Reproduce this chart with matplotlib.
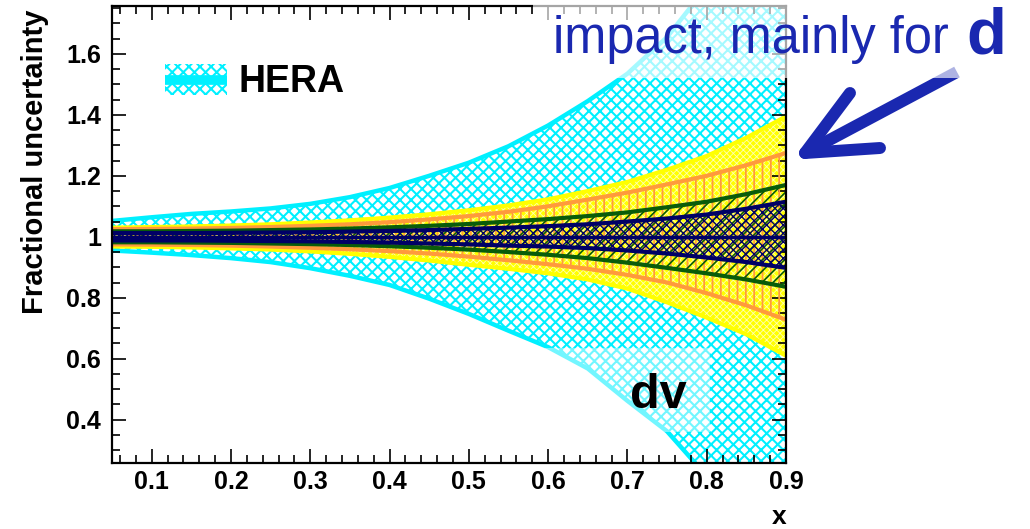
import matplotlib
matplotlib.use("Agg")
import matplotlib.pyplot as plt
from matplotlib.patches import Patch, Rectangle
from matplotlib.lines import Line2D
from matplotlib.legend_handler import HandlerBase
from matplotlib.ticker import MultipleLocator, FixedLocator, FixedFormatter

plt.rcParams['font.family'] = ['Liberation Sans', 'DejaVu Sans']
plt.rcParams['font.weight'] = 'bold'

# ---------------- data ----------------
x = [0.05, 0.10, 0.15, 0.20, 0.25, 0.30, 0.35, 0.40, 0.45, 0.50,
     0.55, 0.60, 0.65, 0.70, 0.75, 0.80, 0.85, 0.90]

hera_up = [1.052, 1.064, 1.075, 1.083, 1.093, 1.108, 1.130, 1.160, 1.200, 1.243,
           1.297, 1.365, 1.445, 1.535, 1.655, 1.820, 2.050, 2.300]
hera_lo = [0.955, 0.948, 0.940, 0.930, 0.917, 0.897, 0.872, 0.842, 0.797, 0.747,
           0.692, 0.638, 0.568, 0.462, 0.362, 0.215, 0.000, -0.200]

yel_up = [1.030, 1.032, 1.034, 1.037, 1.041, 1.047, 1.054, 1.063, 1.074, 1.087,
          1.103, 1.123, 1.150, 1.180, 1.220, 1.265, 1.325, 1.395]
yel_lo = [0.968, 0.967, 0.965, 0.962, 0.958, 0.952, 0.944, 0.934, 0.922, 0.908,
          0.895, 0.880, 0.860, 0.830, 0.785, 0.735, 0.680, 0.610]

ora_up = [1.025, 1.026, 1.027, 1.029, 1.032, 1.036, 1.041, 1.048, 1.057, 1.068,
          1.082, 1.100, 1.122, 1.145, 1.172, 1.200, 1.235, 1.275]
ora_lo = [0.975, 0.974, 0.973, 0.971, 0.968, 0.964, 0.959, 0.953, 0.945, 0.935,
          0.923, 0.910, 0.895, 0.875, 0.850, 0.815, 0.775, 0.728]

grn_up = [1.018, 1.018, 1.019, 1.020, 1.022, 1.024, 1.027, 1.031, 1.036, 1.042,
          1.050, 1.058, 1.068, 1.080, 1.097, 1.115, 1.140, 1.170]
grn_lo = [0.982, 0.982, 0.981, 0.980, 0.978, 0.976, 0.973, 0.969, 0.964, 0.958,
          0.950, 0.941, 0.930, 0.915, 0.898, 0.880, 0.860, 0.836]

nav_up = [1.012, 1.012, 1.012, 1.013, 1.014, 1.015, 1.017, 1.019, 1.022, 1.026,
          1.030, 1.035, 1.041, 1.050, 1.060, 1.073, 1.092, 1.115]
nav_lo = [0.988, 0.988, 0.988, 0.987, 0.986, 0.985, 0.983, 0.981, 0.978, 0.975,
          0.971, 0.968, 0.963, 0.955, 0.945, 0.932, 0.917, 0.898]

central = [1.0] * len(x)

xtick_vals = [0.1, 0.2, 0.3, 0.4, 0.5, 0.6, 0.7, 0.8, 0.9]
xtick_labels = ['0.1', '0.2', '0.3', '0.4', '0.5', '0.6', '0.7', '0.8', '0.9']
ytick_vals = [0.4, 0.6, 0.8, 1.0, 1.2, 1.4, 1.6]
ytick_labels = ['0.4', '0.6', '0.8', '1', '1.2', '1.4', '1.6']

# ---------------- colours ----------------
CYAN = '#00f0ff'
YELLOW = '#ffff00'
ORANGE = '#ff9a3c'
GREEN = '#0a5c0a'
NAVY = '#000066'
BLUE = '#1a28b0'

W, H = 1030, 529
fig = plt.figure(figsize=(W / 100, H / 100), dpi=100)
L, R, T, B = 112, 786, 6, 463
ax = fig.add_axes([L / W, 1 - B / H, (R - L) / W, (B - T) / H])


def hatched(lo, hi, face, hcol, hatch, hlw, z):
    with plt.rc_context({'hatch.linewidth': hlw}):
        p = ax.fill_between(x, lo, hi, facecolor=face, edgecolor=hcol,
                            hatch=hatch, linewidth=0, zorder=z)
    if hasattr(p, 'set_hatch_linewidth'):
        p.set_hatch_linewidth(hlw)
    return p


# HERA band
hatched(hera_lo, hera_up, 'none', CYAN, 'xxx', 1.5, 1)
ax.plot(x, hera_up, color=CYAN, lw=3.2, zorder=1.5)
ax.plot(x, hera_lo, color=CYAN, lw=3.2, zorder=1.5)

# yellow band
hatched(yel_lo, yel_up, YELLOW, '#ffffb0', 'xxxxx', 0.6, 2)
ax.plot(x, yel_up, color=YELLOW, lw=3.0, zorder=2.5)
ax.plot(x, yel_lo, color=YELLOW, lw=3.0, zorder=2.5)

# orange band
hatched(ora_lo, ora_up, 'none', ORANGE, '||', 1.3, 3)
ax.plot(x, ora_up, color=ORANGE, lw=3.0, zorder=3.5)
ax.plot(x, ora_lo, color=ORANGE, lw=3.0, zorder=3.5)

# green band
hatched(grn_lo, grn_up, 'none', GREEN, '///', 1.2, 4)
ax.plot(x, grn_up, color=GREEN, lw=3.0, zorder=4.5)
ax.plot(x, grn_lo, color=GREEN, lw=3.0, zorder=4.5)

# navy band
hatched(nav_lo, nav_up, 'none', NAVY, 'xxxx', 1.0, 5)
ax.plot(x, nav_up, color=NAVY, lw=3.0, zorder=5.5)
ax.plot(x, nav_lo, color=NAVY, lw=3.0, zorder=5.5)
ax.plot(x, central, color=NAVY, lw=2.5, zorder=5.6)

# ---------------- axes ----------------
ax.set_xlim(0.05, 0.9)
ax.set_ylim(0.258, 1.757)
ax.xaxis.set_major_locator(FixedLocator(xtick_vals))
ax.xaxis.set_major_formatter(FixedFormatter(xtick_labels))
ax.xaxis.set_minor_locator(MultipleLocator(0.02))
ax.yaxis.set_major_locator(FixedLocator(ytick_vals))
ax.yaxis.set_major_formatter(FixedFormatter(ytick_labels))
ax.yaxis.set_minor_locator(MultipleLocator(0.05))
ax.tick_params(which='both', direction='in', top=True, right=True,
               width=1.2, labelsize=18, zorder=10)
ax.tick_params(which='major', length=10)
ax.tick_params(which='minor', length=5.5)
ax.tick_params(axis='x', pad=5)
ax.tick_params(axis='y', pad=8)
for s in ax.spines.values():
    s.set_linewidth(1.6)
    s.set_zorder(10)
ax.set_axisbelow(False)

ax.set_ylabel('Fractional uncertainty', fontsize=21, fontweight='bold', loc='top')
ax.yaxis.set_label_coords((49 - L) / (R - L), 1 - (10 - T) / (B - T))
ax.set_xlabel('x', fontsize=19, fontweight='bold', loc='right')
ax.xaxis.set_label_coords(1.0, -(505 - B) / (B - T))


# legend: hatched box with a thick line through its middle
class HatchLineHandler(HandlerBase):
    def create_artists(self, legend, orig_handle, xdescent, ydescent,
                       width, height, fontsize, trans):
        x0, y0 = -xdescent, -ydescent
        with plt.rc_context({'hatch.linewidth': 1.5}):
            r = Rectangle((x0, y0), width, height, facecolor='none',
                          edgecolor=CYAN, hatch='xxx', linewidth=0, transform=trans)
        ln = Line2D([x0, x0 + width], [y0 + height / 2] * 2, color=CYAN,
                    lw=7, solid_capstyle='butt', transform=trans)
        return [r, ln]


hp = Patch(facecolor='none', edgecolor=CYAN, hatch='xxx', linewidth=0)
leg = ax.legend(handles=[hp], labels=['HERA'], loc='upper left',
                bbox_to_anchor=(165 / W, 1 - 64 / H), bbox_transform=fig.transFigure,
                frameon=False, borderpad=0, borderaxespad=0, handlelength=1.65,
                handleheight=0.9, handletextpad=0.3,
                handler_map={Patch: HatchLineHandler()},
                prop={'size': 27, 'weight': 'bold'})

# ---------------- annotations ----------------
# "dv" with translucent box
fig.patches.append(Rectangle((545 / W, 1 - 432 / H), (710 - 545) / W, (432 - 348) / H,
                             transform=fig.transFigure, facecolor='white', alpha=0.45,
                             edgecolor='none', zorder=5))
fig.text(630 / W, 1 - 408 / H, 'dv', fontsize=35, fontweight='bold', color='black',
         va='baseline', ha='left', zorder=6)

# arrow
tip = (805, 153)
tail = (957, 72)
arm1 = (850, 93)
arm2 = (880, 148)
def fline(p, q, cap):
    fig.lines.append(Line2D([p[0] / W, q[0] / W], [1 - p[1] / H, 1 - q[1] / H],
                            transform=fig.transFigure, color=BLUE, lw=8.6,
                            solid_capstyle=cap, zorder=4))
fline(tip, tail, 'butt')
fline(tip, arm1, 'round')
fline(tip, arm2, 'round')

# top translucent box + text
fig.patches.append(Rectangle((533 / W, 1 - 78 / H), (W - 533) / W, 78 / H,
                             transform=fig.transFigure, facecolor='white', alpha=0.65,
                             edgecolor='none', zorder=5))
fig.text(553 / W, 1 - 53 / H, 'impact, mainly for ', fontsize=36.4, fontweight='normal',
         color=BLUE, va='baseline', ha='left', zorder=6)
fig.text(966 / W, 1 - 53 / H, 'd', fontsize=47, fontweight='bold',
         color=BLUE, va='baseline', ha='left', zorder=6)

fig.savefig('out.png', dpi=100)
